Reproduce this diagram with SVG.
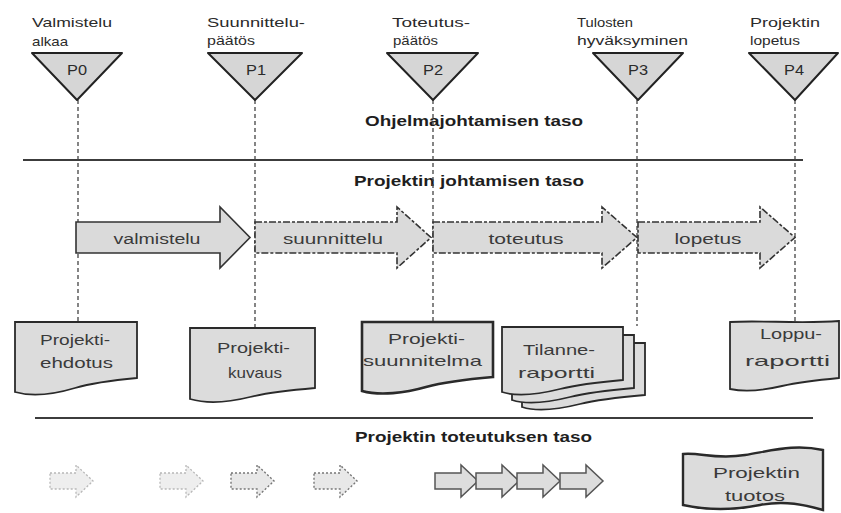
<svg xmlns="http://www.w3.org/2000/svg" width="841" height="513" viewBox="0 0 841 513">
  <style>
    text { font-family: "Liberation Sans", "DejaVu Sans", sans-serif; fill: #2b2b2b; }
    .lbl { font-size: 13px; }
    .ms { font-size: 14px; text-anchor: middle; }
    .lvl { font-size: 14px; font-weight: bold; fill: #1e1e1e; }
    .ph { font-size: 14px; text-anchor: middle; fill: #3a3a3a; }
    .doc { font-size: 15px; fill: #3a3a3a; }
    .tri { fill: #d6d6d6; stroke: #222; stroke-width: 2; stroke-linejoin: round; }
    .phase { fill: #dadada; stroke: #333; stroke-width: 1.6; }
    .phase-d { fill: #dadada; stroke: #333; stroke-width: 1.6; stroke-dasharray: 7 2 3 2; }
    .docbox { fill: #dcdcdc; stroke: #2a2a2a; stroke-width: 1.8; }
    .vdash { stroke: #444; stroke-width: 1.3; stroke-dasharray: 4 3; fill: none; }
    .sep { stroke: #3c3c3c; stroke-width: 1.8; }
    .step-faint { fill: #eeeeee; stroke: #b8b8b8; stroke-width: 1.3; stroke-dasharray: 2 2; }
    .step-mid { fill: #e8e8e8; stroke: #777; stroke-width: 1.4; stroke-dasharray: 2 2; }
    .step { fill: #dddddd; stroke: #555; stroke-width: 1.5; }
  </style>
  <defs>
    <!-- small work-step arrow, origin at left edge / vertical centre -->
    <path id="step" d="M0,-8 H26 V-16 L43,0 L26,16 V8 H0 Z"/>
  </defs>

  <rect width="841" height="513" fill="#ffffff"/>

  <!-- level separators -->
  <line class="sep" x1="23" y1="160" x2="803" y2="160"/>
  <line class="sep" x1="35" y1="418" x2="813" y2="418"/>

  <!-- level titles -->
  <text class="lvl" x="365" y="126" textLength="218" lengthAdjust="spacingAndGlyphs">Ohjelmajohtamisen taso</text>
  <text class="lvl" x="354" y="186" textLength="230" lengthAdjust="spacingAndGlyphs">Projektin johtamisen taso</text>
  <text class="lvl" x="355" y="442" textLength="237" lengthAdjust="spacingAndGlyphs">Projektin toteutuksen taso</text>

  <!-- milestone to document links -->
  <g id="connectors">
    <line class="vdash" x1="78" y1="100" x2="78" y2="322"/>
    <line class="vdash" x1="255" y1="100" x2="255" y2="328"/>
    <line class="vdash" x1="433" y1="100" x2="433" y2="322"/>
    <line class="vdash" x1="637" y1="100" x2="637" y2="326"/>
    <line class="vdash" x1="795" y1="100" x2="795" y2="322"/>
  </g>

  <!-- milestones -->
  <g id="p0">
    <text class="lbl" x="32" y="27" textLength="80" lengthAdjust="spacingAndGlyphs">Valmistelu</text>
    <text class="lbl" x="32" y="46" textLength="36" lengthAdjust="spacingAndGlyphs">alkaa</text>
    <polygon class="tri" points="32,53 122,53 77,100"/>
    <text class="ms" x="77" y="75" textLength="20" lengthAdjust="spacingAndGlyphs">P0</text>
  </g>
  <g id="p1">
    <text class="lbl" x="207" y="27" textLength="98" lengthAdjust="spacingAndGlyphs">Suunnittelu-</text>
    <text class="lbl" x="207" y="45" textLength="48" lengthAdjust="spacingAndGlyphs">päätös</text>
    <polygon class="tri" points="208,53 302,53 255,100"/>
    <text class="ms" x="256" y="75" textLength="20" lengthAdjust="spacingAndGlyphs">P1</text>
  </g>
  <g id="p2">
    <text class="lbl" x="392" y="27" textLength="78" lengthAdjust="spacingAndGlyphs">Toteutus-</text>
    <text class="lbl" x="393" y="45" textLength="45" lengthAdjust="spacingAndGlyphs">päätös</text>
    <polygon class="tri" points="387,53 478,53 433,100"/>
    <text class="ms" x="433" y="75" textLength="20" lengthAdjust="spacingAndGlyphs">P2</text>
  </g>
  <g id="p3">
    <text class="lbl" x="577" y="27" textLength="56" lengthAdjust="spacingAndGlyphs">Tulosten</text>
    <text class="lbl" x="577" y="45" textLength="111" lengthAdjust="spacingAndGlyphs">hyväksyminen</text>
    <polygon class="tri" points="593,53 683,53 638,100"/>
    <text class="ms" x="638" y="75" textLength="20" lengthAdjust="spacingAndGlyphs">P3</text>
  </g>
  <g id="p4">
    <text class="lbl" x="750" y="27" textLength="70" lengthAdjust="spacingAndGlyphs">Projektin</text>
    <text class="lbl" x="750" y="45" textLength="50" lengthAdjust="spacingAndGlyphs">lopetus</text>
    <polygon class="tri" points="749,53 838,53 795,100"/>
    <text class="ms" x="794" y="75" textLength="20" lengthAdjust="spacingAndGlyphs">P4</text>
  </g>

  <!-- project phases -->
  <g id="phase-valmistelu">
    <path class="phase" d="M76,222 H220 V207 L250,237.5 L220,268 V253 H76 Z"/>
    <text class="ph" x="157" y="244" textLength="87" lengthAdjust="spacingAndGlyphs">valmistelu</text>
  </g>
  <g id="phase-suunnittelu">
    <path class="phase-d" d="M255,222 H397 V207 L431,237.5 L397,268 V253 H255 Z"/>
    <text class="ph" x="333" y="244" textLength="100" lengthAdjust="spacingAndGlyphs">suunnittelu</text>
  </g>
  <g id="phase-toteutus">
    <path class="phase-d" d="M433,222 H602 V207 L637,237.5 L602,268 V253 H433 Z"/>
    <text class="ph" x="526" y="244" textLength="75" lengthAdjust="spacingAndGlyphs">toteutus</text>
  </g>
  <g id="phase-lopetus">
    <path class="phase-d" d="M638,222 H760 V207 L795,237.5 L760,268 V253 H638 Z"/>
    <text class="ph" x="708" y="244" textLength="67" lengthAdjust="spacingAndGlyphs">lopetus</text>
  </g>

  <!-- documents -->
  <g id="doc-projektiehdotus">
    <path class="docbox" d="M15,322 H137 V378 C115,380 95,382 75,388 C55,394 32,397 15,392 Z"/>
    <text class="doc" x="40" y="345" textLength="70" lengthAdjust="spacingAndGlyphs">Projekti-</text>
    <text class="doc" x="40" y="368" textLength="73" lengthAdjust="spacingAndGlyphs">ehdotus</text>
  </g>
  <g id="doc-projektikuvaus">
    <path class="docbox" d="M190,328 H315 V388 C292,390 270,392 250,397 C230,402 207,404 190,399 Z"/>
    <text class="doc" x="217" y="353" textLength="73" lengthAdjust="spacingAndGlyphs">Projekti-</text>
    <text class="doc" x="228" y="378" textLength="54" lengthAdjust="spacingAndGlyphs">kuvaus</text>
  </g>
  <g id="doc-projektisuunnitelma">
    <path class="docbox" style="stroke-width:2.6" d="M362,322 H493 V377 C470,379 448,381 426,387 C405,393 380,396 362,391 Z"/>
    <text class="doc" x="388" y="344" textLength="77" lengthAdjust="spacingAndGlyphs">Projekti-</text>
    <text class="doc" x="363" y="366" textLength="119" lengthAdjust="spacingAndGlyphs">suunnitelma</text>
  </g>
  <g id="doc-tilanneraportti">
    <path class="docbox" d="M522,343 H645 V395 C622,397 600,399 580,404 C560,409 537,412 522,407 Z"/>
    <path class="docbox" d="M512,335 H634 V388 C611,390 590,392 570,397 C550,402 527,405 512,400 Z"/>
    <path class="docbox" d="M502,327 H623 V380 C600,382 580,384 560,389 C540,394 517,397 502,392 Z"/>
    <text class="doc" x="523" y="355" textLength="72" lengthAdjust="spacingAndGlyphs">Tilanne-</text>
    <text class="doc" x="518" y="378" textLength="77" lengthAdjust="spacingAndGlyphs">raportti</text>
  </g>
  <g id="doc-loppuraportti">
    <path class="docbox" d="M730,322 C760,320 800,324 839,321 V378 C818,380 800,382 782,386 C765,390 745,392 730,389 Z"/>
    <text class="doc" x="760" y="339" textLength="62" lengthAdjust="spacingAndGlyphs">Loppu-</text>
    <text class="doc" x="745" y="366" textLength="85" lengthAdjust="spacingAndGlyphs">raportti</text>
  </g>

  <!-- work steps -->
  <g id="step-1"><use href="#step" class="step-faint" x="50" y="481"/></g>
  <g id="step-2"><use href="#step" class="step-faint" x="160" y="481"/></g>
  <g id="step-3"><use href="#step" class="step-mid" x="231" y="481"/></g>
  <g id="step-4"><use href="#step" class="step-mid" x="314" y="481"/></g>
  <g id="step-chain">
    <use href="#step" class="step" x="435" y="481"/>
    <use href="#step" class="step" x="476" y="481"/>
    <use href="#step" class="step" x="517" y="481"/>
    <use href="#step" class="step" x="560" y="481"/>
  </g>

  <!-- deliverable -->
  <g id="projektin-tuotos">
    <path class="docbox" style="stroke-width:2.4" d="M683,454 C700,452 715,460 745,455 C775,450 795,444 823,450 V510 C805,505 785,500 760,505 C735,510 710,511 683,505 Z"/>
    <text class="doc" x="713" y="478" textLength="87" lengthAdjust="spacingAndGlyphs">Projektin</text>
    <text class="doc" x="725" y="501" textLength="60" lengthAdjust="spacingAndGlyphs">tuotos</text>
  </g>
</svg>
